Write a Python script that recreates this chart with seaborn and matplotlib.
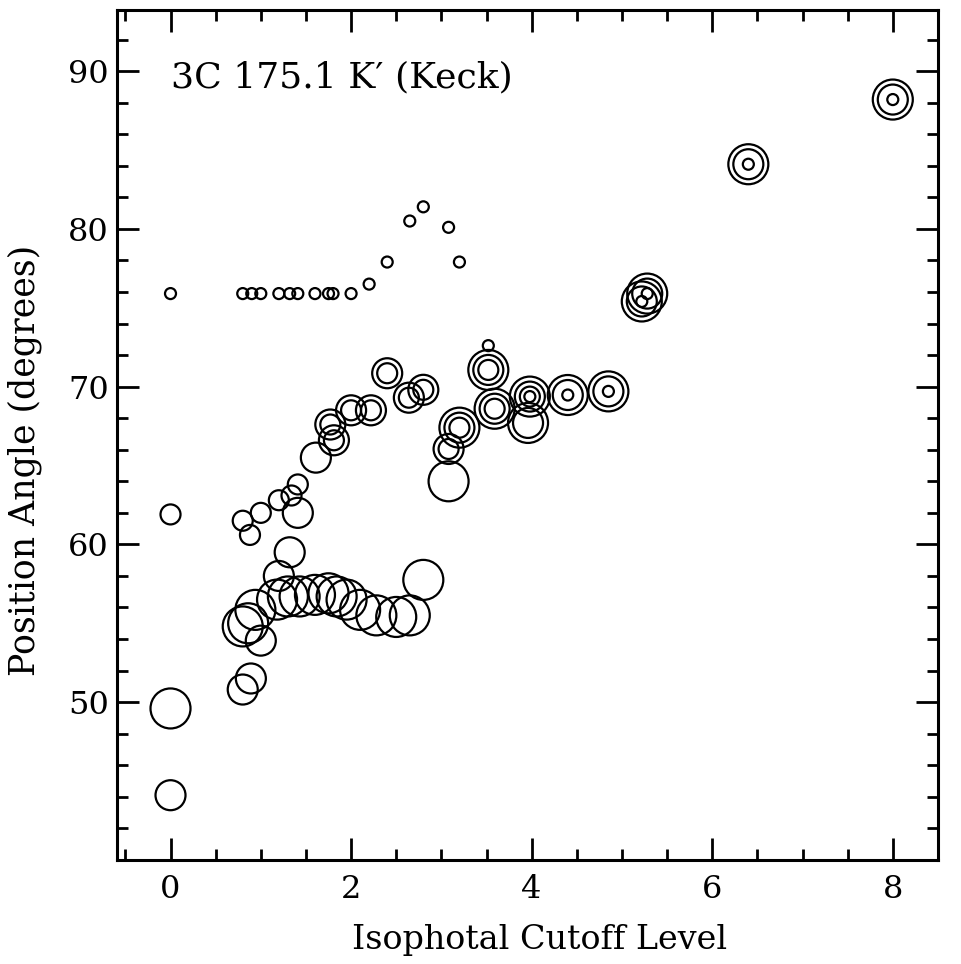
import numpy as np
import pandas as pd
import matplotlib
matplotlib.use("Agg")
import matplotlib.pyplot as plt
import seaborn as sns
from matplotlib.ticker import MultipleLocator

# ---- data ----
small_x = [0, 0.8, 0.9, 1.0, 1.2, 1.32, 1.41, 1.6, 1.75, 1.8, 2.0, 2.2, 2.4, 2.65, 2.8, 3.08, 3.2,
           3.52, 3.98, 4.4, 4.85, 5.22, 5.28, 6.4, 8.0]
small_y = [75.9, 75.9, 75.9, 75.9, 75.9, 75.9, 75.9, 75.9, 75.9, 75.9, 75.9, 76.5, 77.9, 80.5, 81.4, 80.1, 77.9,
           72.6, 69.37, 69.47, 69.7, 75.4, 75.9, 84.1, 88.2]

medium_x = [0, 0.8, 0.88, 1.0, 1.2, 1.34, 1.41, 1.77, 1.81, 2.0, 2.22, 2.4, 2.64, 2.8, 3.08, 3.2,
            3.52, 3.59, 3.98]
medium_y = [61.9, 61.5, 60.6, 62.0, 62.8, 63.1, 63.8, 67.6, 66.6, 68.5, 68.5, 70.85, 69.3, 69.8, 66.05, 67.4,
            71.06, 68.6, 69.37]

large_x = [0, 0.8, 0.89, 1.0, 1.2, 1.32, 1.41, 1.61, 1.77, 1.81, 2.0, 2.22, 2.4, 2.64, 2.8, 3.08, 3.2,
           3.52, 3.59, 3.96, 3.98, 4.4, 4.85, 5.22, 5.28, 6.4, 8.0]
large_y = [44.1, 50.8, 51.5, 53.9, 58.0, 59.5, 62.0, 65.5, 67.6, 66.6, 68.5, 68.5, 70.85, 69.3, 69.8, 66.05, 67.4,
           71.06, 68.6, 67.7, 69.37, 69.47, 69.7, 75.4, 75.9, 84.1, 88.2]

xlarge_x = [0, 0.8, 0.86, 0.94, 1.18, 1.30, 1.43, 1.6, 1.75, 1.84, 1.95, 2.1, 2.28, 2.5, 2.65, 2.8, 3.08, 3.2,
            3.52, 3.59, 3.96, 3.98, 4.4, 4.85, 5.22, 5.28, 6.4, 8.0]
xlarge_y = [49.6, 54.8, 55.0, 55.85, 56.5, 56.7, 56.7, 56.8, 56.9, 56.7, 56.5, 55.85, 55.5, 55.4, 55.5, 57.75, 64.0, 67.4,
            71.06, 68.6, 67.7, 69.37, 69.47, 69.7, 75.4, 75.9, 84.1, 88.2]

x_ticks = [0, 2, 4, 6, 8]
y_ticks = [50, 60, 70, 80, 90]
title_text = "3C 175.1 K\u2032 (Keck)"
x_label = "Isophotal Cutoff Level"
y_label = "Position Angle (degrees)"

# ---- build table ----
frames = []
for ring, xs, ys in [(1, small_x, small_y), (2, medium_x, medium_y),
                     (3, large_x, large_y), (4, xlarge_x, xlarge_y)]:
    frames.append(pd.DataFrame({"level": xs, "pa": ys, "ring": ring}))
df = pd.concat(frames, ignore_index=True)

sns.set_style("ticks")
plt.rcParams["font.family"] = ["DejaVu Serif"]
plt.rcParams["text.color"] = "black"
plt.rcParams["axes.labelcolor"] = "black"
plt.rcParams["xtick.color"] = "black"
plt.rcParams["ytick.color"] = "black"

fig = plt.figure(figsize=(9.61, 9.64), dpi=100)
ax = fig.add_axes([0.122, 0.108, 0.854, 0.882])

# marker diameters in px: 11, 20, 30, 40  -> area in pt^2
sizes = {1: (11 * 0.72) ** 2, 2: (20 * 0.72) ** 2, 3: (30 * 0.72) ** 2, 4: (40 * 0.72) ** 2}
sns.scatterplot(data=df, x="level", y="pa", size="ring", sizes=sizes, marker="o",
                facecolor="none", edgecolor="black", linewidth=1.6, legend=False, ax=ax)

ax.set_xlim(-0.59, 8.5)
ax.set_ylim(40.0, 93.9)
ax.set_xticks(x_ticks)
ax.set_yticks(y_ticks)
ax.xaxis.set_minor_locator(MultipleLocator(0.5))
ax.yaxis.set_minor_locator(MultipleLocator(2))
ax.tick_params(which="both", direction="in", top=True, right=True, width=2.0,
               colors="black", labelcolor="black")
ax.tick_params(which="major", length=16, labelsize=23)
ax.tick_params(which="minor", length=8)
ax.tick_params(axis="x", which="major", pad=10)
ax.tick_params(axis="y", which="major", pad=6)
for s in ax.spines.values():
    s.set_linewidth(2.2)
    s.set_color("black")

ax.set_xlabel(x_label, fontsize=24, color="black")
ax.set_ylabel(y_label, fontsize=25, color="black")
ax.xaxis.set_label_coords(0.515, -0.075)
ax.yaxis.set_label_coords(-0.092, 0.47)
ax.text(0.066, 0.92, title_text, transform=ax.transAxes, fontsize=26,
        ha="left", va="center", color="black")

fig.savefig("out.png", dpi=100)
